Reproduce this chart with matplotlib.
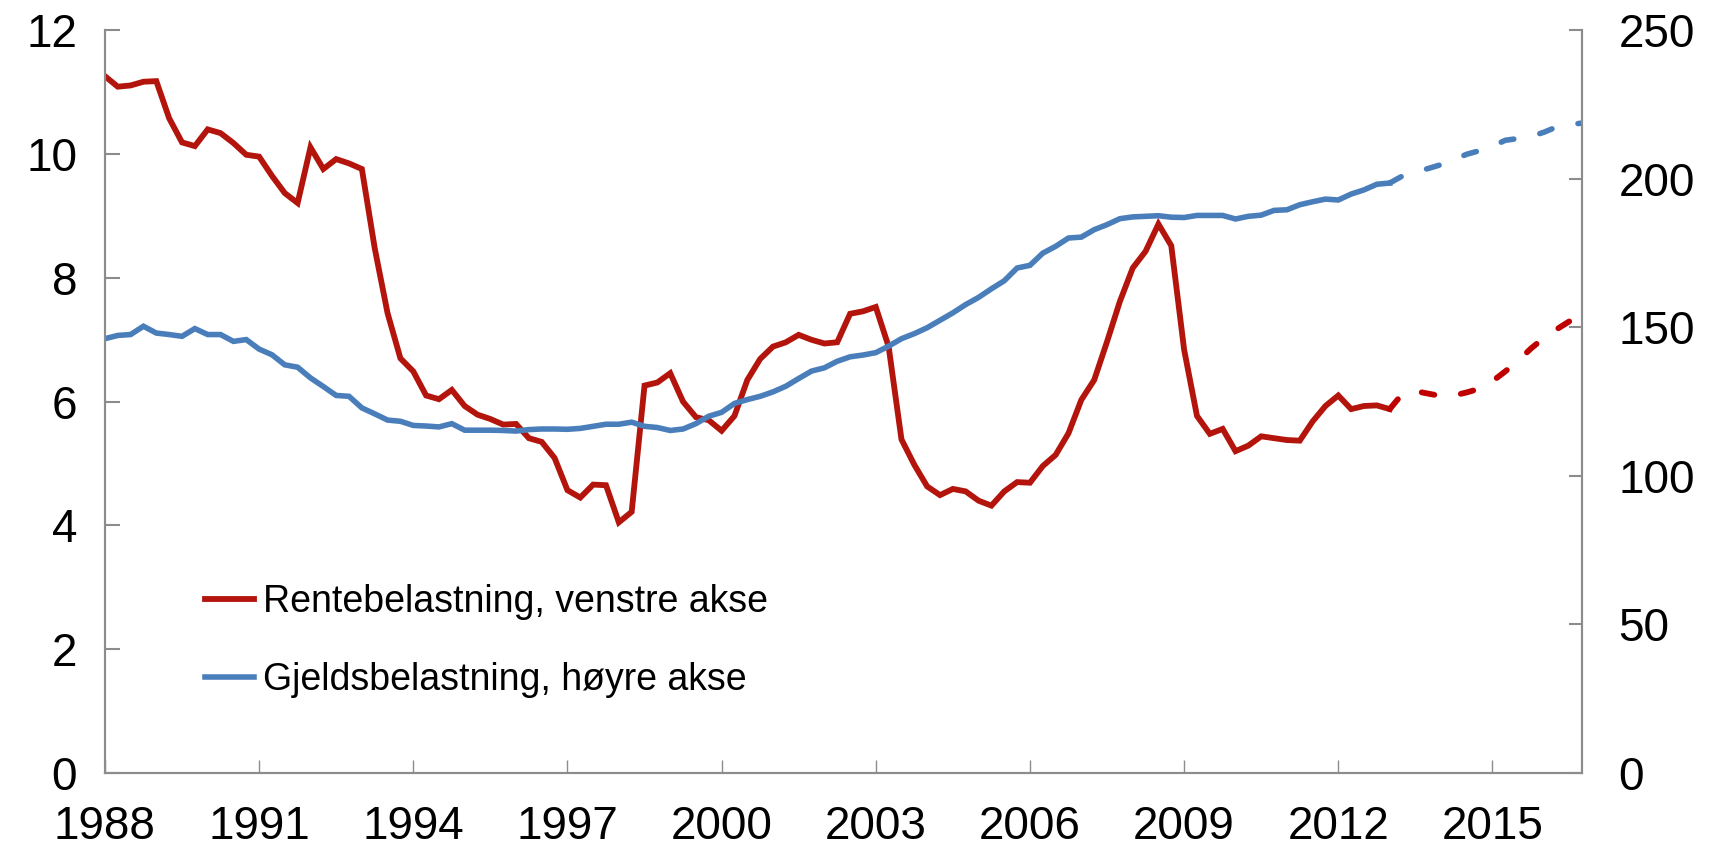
import numpy as np
import matplotlib
matplotlib.use("Agg")
import matplotlib.pyplot as plt
from matplotlib.lines import Line2D

plt.rcParams['font.family'] = ['Liberation Sans', 'DejaVu Sans']

# Quarterly series, first quarter 1988 onwards
start_year = 1988
rente = [
    11.26, 11.09, 11.11, 11.17,
    11.18, 10.58, 10.19, 10.13,
    10.40, 10.34, 10.18, 9.99,
    9.96, 9.65, 9.37, 9.21,
    10.11, 9.76, 9.92, 9.85,
    9.76, 8.48, 7.43, 6.70,
    6.49, 6.10, 6.04, 6.19,
    5.93, 5.79, 5.72, 5.63,
    5.64, 5.41, 5.35, 5.09,
    4.57, 4.45, 4.66, 4.65,
    4.05, 4.22, 6.26, 6.31,
    6.46, 6.00, 5.75, 5.70,
    5.53, 5.77, 6.35, 6.69,
    6.89, 6.96, 7.08, 7.00,
    6.94, 6.96, 7.42, 7.46,
    7.53, 6.89, 5.39, 4.98,
    4.63, 4.49, 4.59, 4.55,
    4.40, 4.32, 4.55, 4.70,
    4.69, 4.96, 5.14, 5.49,
    6.03, 6.35, 6.97, 7.62,
    8.16, 8.43, 8.87, 8.52,
    6.84, 5.77, 5.48, 5.56,
    5.20, 5.29, 5.44, 5.41,
    5.38, 5.37, 5.68, 5.93,
    6.10, 5.88, 5.93, 5.94,
    5.88,
]
# projection, 2013 Q2 - 2016 Q4
rente_proj = [6.13, 6.17, 6.13, 6.09, 6.10, 6.15, 6.21, 6.33,
              6.49, 6.66, 6.86, 7.03, 7.17, 7.30, 7.35]

gjeld = [
    146.2, 147.3, 147.6, 150.4,
    148.1, 147.6, 147.0, 149.6,
    147.6, 147.6, 145.3, 145.9,
    142.7, 140.8, 137.4, 136.6,
    133.0, 130.1, 127.1, 126.8,
    122.9, 120.9, 118.8, 118.4,
    117.0, 116.8, 116.5, 117.6,
    115.4, 115.4, 115.4, 115.3,
    115.1, 115.6, 115.8, 115.8,
    115.7, 116.0, 116.7, 117.4,
    117.4, 118.1, 116.7, 116.3,
    115.3, 115.8, 117.6, 120.1,
    121.4, 124.4, 125.7, 126.8,
    128.3, 130.2, 132.8, 135.3,
    136.4, 138.6, 140.1, 140.7,
    141.5, 143.7, 146.2, 147.9,
    149.9, 152.4, 154.9, 157.7,
    160.1, 163.0, 165.7, 170.0,
    170.9, 175.0, 177.3, 180.1,
    180.4, 182.9, 184.6, 186.6,
    187.2, 187.4, 187.6, 187.1,
    187.0, 187.7, 187.7, 187.7,
    186.5, 187.4, 187.8, 189.4,
    189.6, 191.3, 192.3, 193.2,
    192.9, 194.9, 196.3, 198.2,
    198.6,
]
gjeld_proj = [201.0, 202.3, 203.5, 204.8, 206.5, 208.3, 209.5, 211.0,
              213.0, 213.6, 214.3, 215.7, 217.5, 218.3, 218.8]

year_ticks = [1988, 1991, 1994, 1997, 2000, 2003, 2006, 2009, 2012, 2015]
left_ticks = [0, 2, 4, 6, 8, 10, 12]
right_ticks = [0, 50, 100, 150, 200, 250]

RED = '#B3150D'
RED_PROJ = '#C00000'
BLUE = '#4A7EBB'
SPINE = '#8C8C8C'

n_hist = len(rente)
x_hist = start_year + np.arange(n_hist) / 4
x_proj = start_year + np.arange(n_hist - 1, n_hist + len(rente_proj)) / 4

fig = plt.figure(figsize=(17.2, 8.51), dpi=100)
ax = fig.add_axes([0.061, 0.0917, 0.859, 0.8726])
ax2 = ax.twinx()

ax.plot(x_hist, rente, color=RED, lw=4.2, solid_joinstyle='miter')
ax.plot(x_proj, [rente[-1]] + rente_proj, color=RED_PROJ, lw=4.2,
        dashes=(2.2, 4.6), dash_capstyle='round')
ax2.plot(x_hist, gjeld, color=BLUE, lw=4.0, solid_joinstyle='miter')
ax2.plot(x_proj, [gjeld[-1]] + gjeld_proj, color=BLUE, lw=4.0,
         dashes=(2.35, 4.8), dash_capstyle='round')

ax.set_xlim(start_year, x_proj[-1])
ax.set_ylim(0, 12)
ax2.set_ylim(0, 250)
ax.set_yticks(left_ticks)
ax2.set_yticks(right_ticks)
ax.set_xticks(year_ticks)
ax.set_xticklabels([str(y) for y in year_ticks])

for a in (ax, ax2):
    a.spines['top'].set_visible(False)
    for s in ('left', 'right', 'bottom'):
        a.spines[s].set_color(SPINE)
        a.spines[s].set_linewidth(1.5)
ax.tick_params(axis='y', direction='in', length=10.5, width=1.5, color=SPINE,
               labelsize=33, pad=20)
ax2.tick_params(axis='y', direction='in', length=9.5, width=1.5, color=SPINE,
                labelsize=33, pad=26)
ax.tick_params(axis='x', direction='in', length=9.5, width=1, color=SPINE,
               labelsize=33, pad=23)

handles = [Line2D([], [], color=RED, lw=4.2),
           Line2D([], [], color=BLUE, lw=4.0)]
labels = ['Rentebelastning, venstre akse', 'Gjeldsbelastning, høyre akse']
ax2.legend(handles, labels, loc='center left', bbox_to_anchor=(0.0677, 0.178),
           frameon=False, fontsize=27, handlelength=1.3, handletextpad=0.25,
           labelspacing=1.12, borderpad=0, borderaxespad=0)

fig.savefig('out.png', dpi=100)
